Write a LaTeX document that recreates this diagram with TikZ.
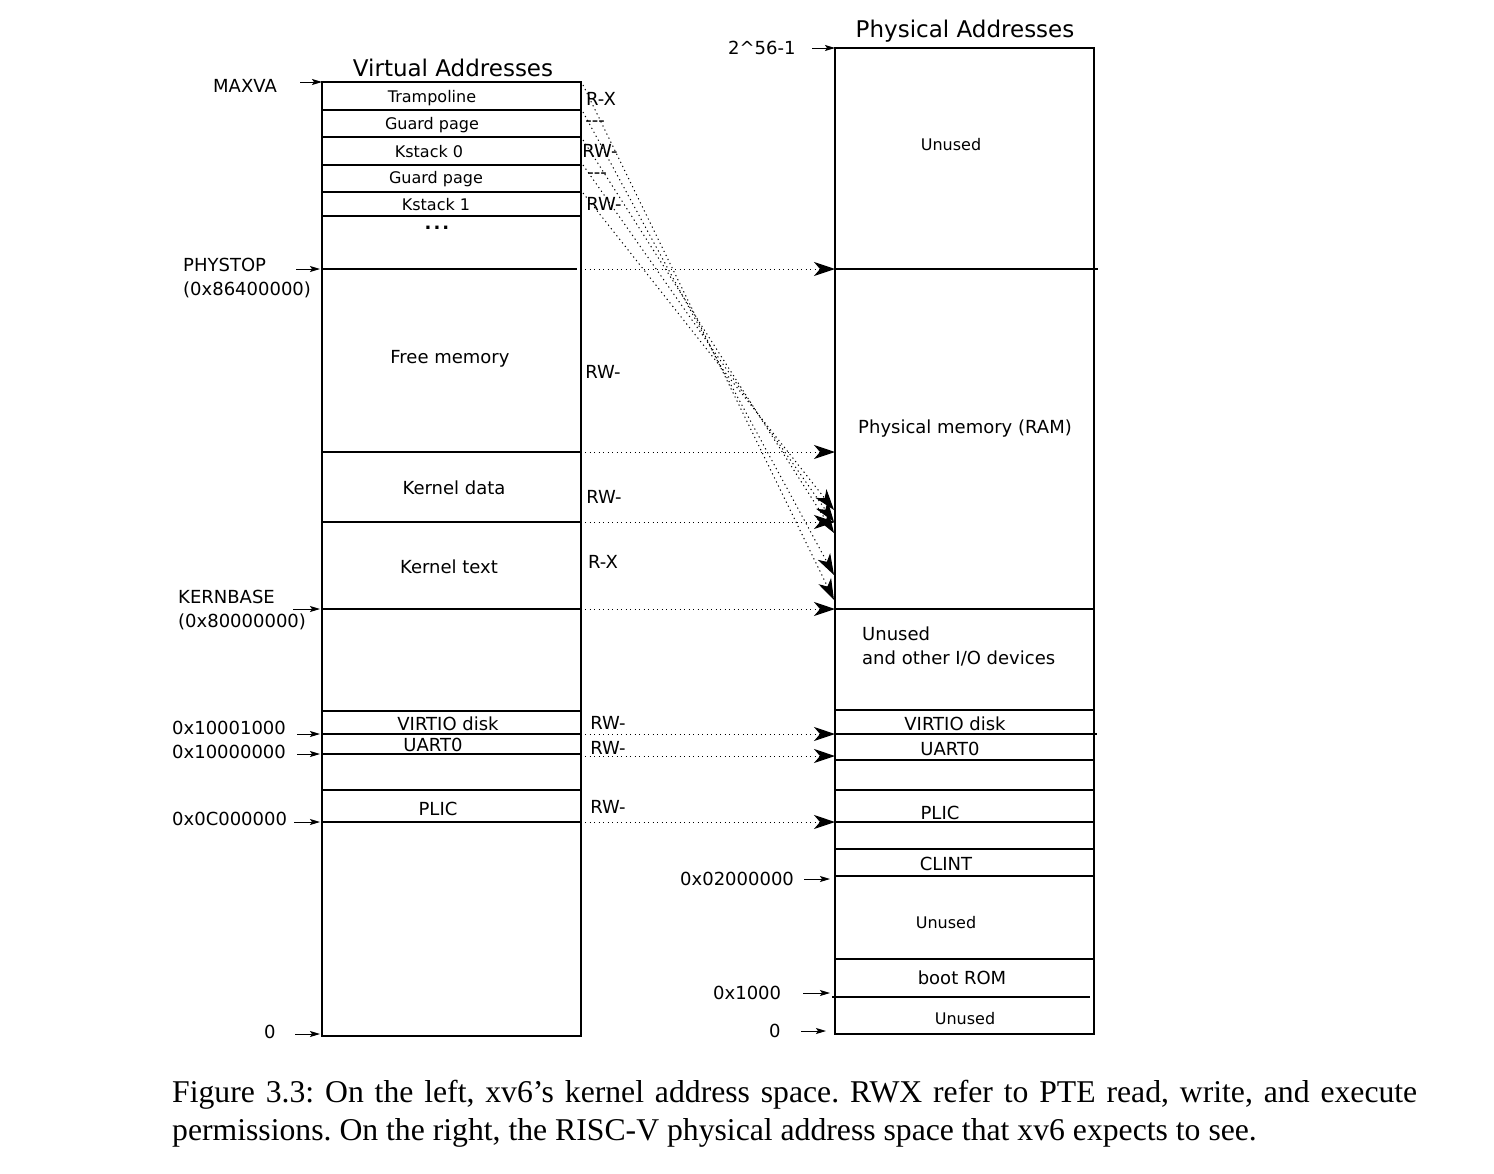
\documentclass[tikz,border=0pt]{standalone}
\usepackage{fontspec}
\setmainfont{DejaVu Sans}
\newfontfamily\capfont{Liberation Serif}
\usetikzlibrary{arrows.meta}
\begin{document}
\begin{tikzpicture}[x=1pt,y=-1pt,
 box/.style={line width=1.6pt},
 sep/.style={line width=1.2pt},
 sm/.style={font=\fontsize{16}{19}\selectfont, inner sep=0pt},
 nm/.style={font=\fontsize{18}{22}\selectfont, inner sep=0pt},
 ttl/.style={font=\fontsize{23}{27}\selectfont, inner sep=0pt},
 addr/.style={font=\fontsize{18}{24}\selectfont, anchor=west, align=left, inner sep=0pt},
 ptr/.style={-{Stealth[length=10pt,width=6pt,inset=2pt]}, line width=1pt},
 map/.style={-{Stealth[length=21pt,width=14pt,inset=6pt]}, line width=1pt, dash pattern=on 1.2pt off 3.3pt},
]
\useasboundingbox (0,0) rectangle (1494,1173);

% ---------- Virtual address box ----------
\draw[box] (322,82) rectangle (581,1036);
\foreach \y in {110,137,165,192,216,452,522,609,711,734,754,790,822}
  \draw[sep] (322,\y) -- (581,\y);
\draw[sep] (322,269) -- (577,269);

\node[ttl] (vtitle) at (453,68) {Virtual Addresses};
\node[sm] (tramp) at (432,98) {Trampoline};
\node[sm] (g0) at (432,125) {Guard page};
\node[sm] (ks0) at (429,152) {Kstack 0};
\node[sm] (g1) at (436,179) {Guard page};
\node[sm] (ks1) at (436,205) {Kstack 1};
\node[font=\bfseries\fontsize{18}{20}\selectfont, inner sep=0pt] (dots) at (437,228) {.\kern2pt.\kern2pt.};
\node[nm] (free) at (450,359) {Free memory};
\node[nm] (kdata) at (454,488) {Kernel data};
\node[nm] (ktext) at (449,567) {Kernel text};
\node[nm] (vvirtio) at (448,724) {VIRTIO disk};
\node[nm] (vuart) at (433,745) {UART0};
\node[nm] (vplic) at (438,809) {PLIC};

% permissions
\node[nm] (p1) at (601,99) {R-X};
\node[nm] (p2) at (595,124) {-{}-{}-};
\node[nm] (p3) at (600,151) {RW-};
\node[nm] (p4) at (597,176) {-{}-{}-};
\node[nm] (p5) at (604,204) {RW-};
\node[nm] (p6) at (603,372) {RW-};
\node[nm] (p7) at (604,497) {RW-};
\node[nm] (p8) at (603,562) {R-X};
\node[nm] (p9) at (608,723) {RW-};
\node[nm] (p10) at (608,748) {RW-};
\node[nm] (p11) at (608,807) {RW-};

% left address labels
\node[addr] (maxva) at (213,86) {MAXVA};
\node[addr] (phystop) at (183,278) {PHYSTOP\\(0x86400000)};
\node[addr] (kernbase) at (178,610) {KERNBASE\\(0x80000000)};
\node[addr] (a1) at (172,728) {0x10001000};
\node[addr] (a2) at (172,752) {0x10000000};
\node[addr] (a3) at (172,819) {0x0C000000};
\node[addr] (a0) at (264,1032) {0};

\coordinate (lm0) at (300,82);   \coordinate (lm1) at (322,82);
\coordinate (lp0) at (296,269);  \coordinate (lp1) at (320,269);
\coordinate (lk0) at (293,609);  \coordinate (lk1) at (320,609);
\coordinate (la0) at (297,734);  \coordinate (la1) at (320,734);
\coordinate (lb0) at (297,754);  \coordinate (lb1) at (320,754);
\coordinate (lc0) at (294,822);  \coordinate (lc1) at (320,822);
\coordinate (lz0) at (295,1034); \coordinate (lz1) at (320,1034);
\foreach \a/\b in {lm0/lm1,lp0/lp1,lk0/lk1,la0/la1,lb0/lb1,lc0/lc1,lz0/lz1}
  \draw[ptr] (\a) -- (\b);

% ---------- Physical address box ----------
\draw[box] (835,48) rectangle (1094,1034);
\foreach \y in {609,710,760,790,822,849,876,959}
  \draw[sep] (835,\y) -- (1094,\y);
\draw[sep] (835,269) -- (1098,269);
\draw[sep] (835,734) -- (1097,734);
\draw[sep] (832,997) -- (1090,997);

\node[ttl] (ptitle) at (965,31) {Physical Addresses};
\node[sm] (unused1) at (951,145) {Unused};
\node[nm] (ram) at (965,429) {Physical memory (RAM)};
\node[nm, anchor=west, align=left, font=\fontsize{18}{24}\selectfont] (unio) at (862,646) {Unused\\and other I/O devices};
\node[nm] (pvirtio) at (955,724) {VIRTIO disk};
\node[nm] (puart) at (950,749) {UART0};
\node[nm] (pplic) at (940,813) {PLIC};
\node[nm] (clint) at (946,864) {CLINT};
\node[sm] (unused2) at (946,923) {Unused};
\node[nm] (brom) at (962,978) {boot ROM};
\node[sm] (unused3) at (965,1019) {Unused};

\node[addr] (r56) at (728,48) {2\^{}56-1};
\node[addr] (r2m) at (680,879) {0x02000000};
\node[addr] (r1k) at (713,993) {0x1000};
\node[addr] (r0) at (769,1031) {0};

\coordinate (rt0) at (812,48);   \coordinate (rt1) at (835,48);
\coordinate (rc0) at (804,879);  \coordinate (rc1) at (830,879);
\coordinate (rb0) at (803,993);  \coordinate (rb1) at (830,993);
\coordinate (rz0) at (801,1031); \coordinate (rz1) at (826,1031);
\foreach \a/\b in {rt0/rt1,rc0/rc1,rb0/rb1,rz0/rz1}
  \draw[ptr] (\a) -- (\b);

% ---------- mappings ----------
\foreach \y/\n in {269/a,452/b,522/c,609/d,734/e,756/f,822/g}{
  \coordinate (ms\n) at (585,\y);
  \coordinate (me\n) at (835,\y);
  \draw[map] (ms\n) -- (me\n);
}
\coordinate (ds1) at (583,85);  \coordinate (de1) at (834,600);
\coordinate (ds2) at (583,112); \coordinate (de2) at (834,575);
\coordinate (ds3) at (583,140); \coordinate (de3) at (834,533);
\coordinate (ds4) at (583,165); \coordinate (de4) at (834,522);
\coordinate (ds5) at (583,193); \coordinate (de5) at (834,510);
\foreach \i in {1,...,5}
  \draw[map] (ds\i) -- (de\i);

% ---------- caption ----------
\node[anchor=north west, inner sep=0pt, text width=1245pt, align=justify,
      font=\capfont\fontsize{31.7}{38}\selectfont\frenchspacing] (caption) at (172,1080)
  {Figure 3.3: On the left, xv6’s kernel address space. RWX refer to PTE read, write, and execute\linebreak permissions. On the right, the RISC-V physical address space that xv6 expects to see.};
\end{tikzpicture}
\end{document}
